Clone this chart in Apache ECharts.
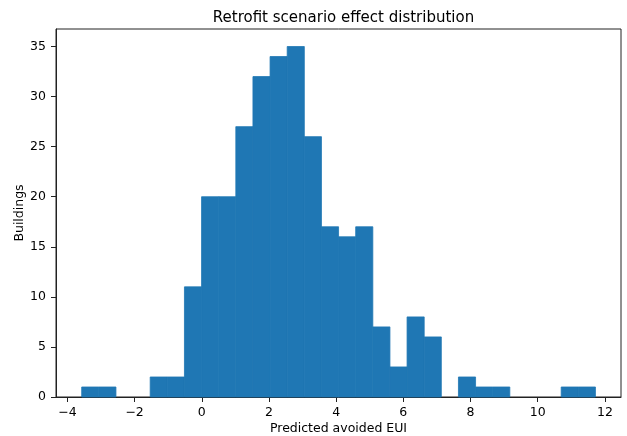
<!DOCTYPE html>
<html>
<head>
<meta charset="utf-8">
<script src="https://cdn.jsdelivr.net/npm/echarts@6/dist/echarts.min.js"></script>
<style>
  html, body { margin: 0; padding: 0; background: #fff; }
  #chart { width: 627px; height: 436px; }
</style>
</head>
<body>
<div id="chart"></div>
<script>
// histogram bins: left edge of first bin, bin width, counts per bin
var binStart = -3.575
var binWidth = 0.5098
var counts = [1, 1, 0, 0, 2, 2, 11, 20, 20, 27, 32, 34, 35, 26, 17, 16, 17, 7, 3, 8, 6, 0, 2, 1, 1, 0, 0, 0, 1, 1]
var xTicks = [-4, -2, 0, 2, 4, 6, 8, 10, 12]
var yTicks = [0, 5, 10, 15, 20, 25, 30, 35]

var bins = counts.map(function (c, i) {
    var x0 = binStart + i * binWidth
    return [x0, x0 + binWidth, c]
})

var font = 'DejaVu Sans'
var chart = echarts.init(document.getElementById('chart'), null, {renderer: 'canvas'})

var option = {
    animation: false,
    title: {
        text: 'Retrofit scenario effect distribution',
        left: 338.5,
        textAlign: 'center',
        top: 6,
        textStyle: {fontFamily: font, fontSize: 15, fontWeight: 'normal', color: '#000'}
    },
    grid: {
        left: 56, right: 6, top: 29, bottom: 39,
        outerBoundsMode: 'none',
        containLabel: false,
        show: true, borderColor: '#222', borderWidth: 1, backgroundColor: 'transparent'
    },
    xAxis: {
        type: 'value',
        min: -4.34,
        max: 12.48,
        name: 'Predicted avoided EUI',
        nameLocation: 'middle',
        nameGap: 25,
        nameMoveOverlap: false,
        nameTextStyle: {fontFamily: font, fontSize: 12.5, color: '#000'},
        axisLine: {show: true, onZero: false, lineStyle: {color: '#222', width: 1}},
        axisTick: {show: true, length: 5, customValues: xTicks, lineStyle: {color: '#222'}},
        axisLabel: {
            customValues: xTicks,
            margin: 9,
            fontFamily: font, fontSize: 12.5, color: '#000',
            formatter: function (v) { return String(v).replace('-', '\u2212') }
        },
        splitLine: {show: false}
    },
    yAxis: {
        type: 'value',
        min: 0,
        max: 36.75,
        name: 'Buildings',
        nameLocation: 'middle',
        nameGap: 30,
        nameRotate: 90,
        nameMoveOverlap: false,
        nameTextStyle: {fontFamily: font, fontSize: 12.5, color: '#000'},
        axisLine: {show: true, onZero: false, lineStyle: {color: '#222', width: 1}},
        axisTick: {show: true, length: 5, customValues: yTicks, lineStyle: {color: '#222'}},
        axisLabel: {customValues: yTicks, margin: 10, fontFamily: font, fontSize: 12.5, color: '#000'},
        splitLine: {show: false}
    },
    series: [{
        type: 'custom',
        data: bins,
        encode: {x: [0, 1], y: 2},
        renderItem: function (params, api) {
            if (!api.value(2)) return null
            var p0 = api.coord([api.value(0), 0])
            var p1 = api.coord([api.value(1), api.value(2)])
            return {
                type: 'rect',
                shape: {x: p0[0], y: p1[1], width: p1[0] - p0[0], height: p0[1] - p1[1]},
                style: {fill: '#1f77b4', stroke: '#1f77b4', lineWidth: 0.8}
            }
        }
    }]
}

chart.setOption(option)
</script>
</body>
</html>
